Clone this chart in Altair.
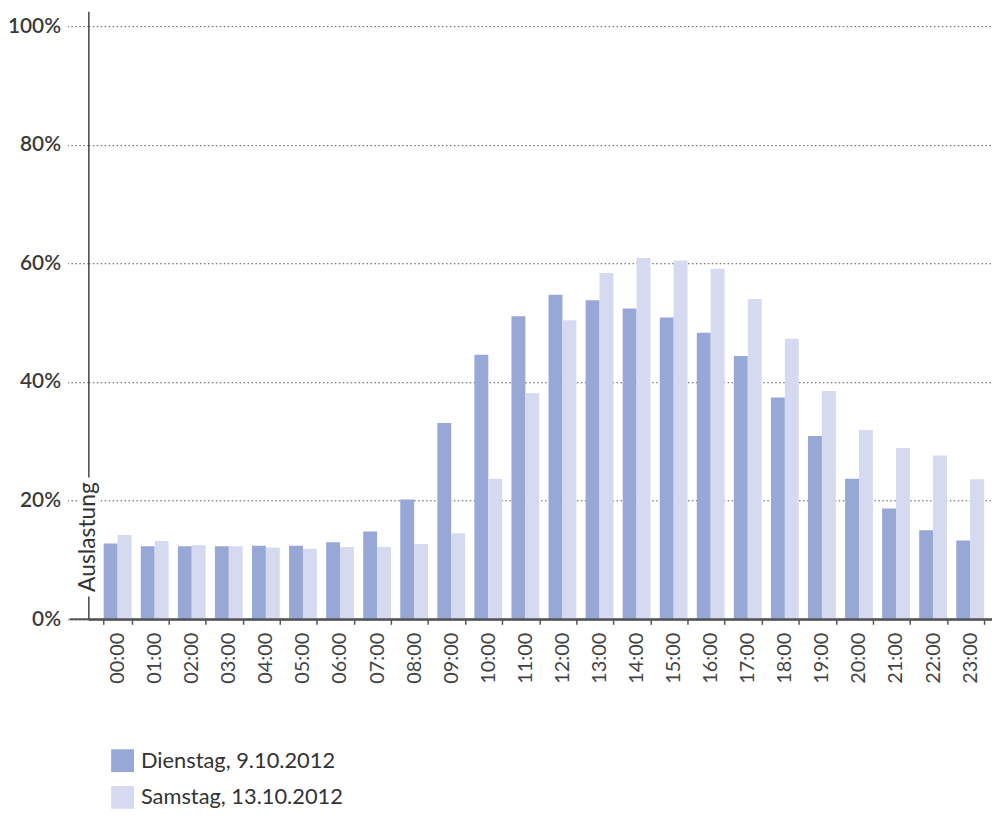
import altair as alt
import pandas as pd

hours = [f"{h:02d}:00" for h in range(24)]
dienstag = [12.8, 12.3, 12.3, 12.3, 12.4, 12.4, 13.0, 14.8, 20.2, 33.1, 44.6, 51.1,
            54.7, 53.8, 52.4, 50.9, 48.3, 44.4, 37.4, 30.9, 23.7, 18.7, 15.0, 13.3]
samstag = [14.2, 13.2, 12.5, 12.3, 12.1, 11.9, 12.2, 12.2, 12.7, 14.5, 23.7, 38.1,
           50.4, 58.4, 60.9, 60.5, 59.1, 54.0, 47.3, 38.5, 31.9, 28.9, 27.6, 23.6]
series = ["Dienstag, 9.10.2012", "Samstag, 13.10.2012"]
colors = ["#97a8d7", "#d5daf0"]
y_ticks = [0, 20, 40, 60, 80, 100]
axis_title = "Auslastung"

rows = []
for i, h in enumerate(hours):
    rows.append({"Stunde": h, "Tag": series[0], "Wert": dienstag[i]})
    rows.append({"Stunde": h, "Tag": series[1], "Wert": samstag[i]})
df = pd.DataFrame(rows)

W, H = 911, 613
FONT = "Lato"

bars = alt.Chart(df).mark_bar().encode(
    x=alt.X("Stunde:N", sort=hours,
            scale=alt.Scale(paddingInner=0.25, paddingOuter=0.314, align=0.66),
            axis=alt.Axis(title=None, labelAngle=-90, labelFont=FONT, labelFontSize=20,
                          labelColor="#444444", labelFontWeight=400, labelPadding=8,
                          tickBand="extent", tickSize=5, tickColor="#555555", tickWidth=1.5,
                          domain=True, domainColor="#555555", domainWidth=2, grid=False)),
    xOffset=alt.XOffset("Tag:N", sort=series, scale=alt.Scale(paddingInner=0, paddingOuter=0)),
    y=alt.Y("Wert:Q", scale=alt.Scale(domain=[0, 102.5], nice=False),
            axis=alt.Axis(title=None, values=y_ticks, labelExpr="datum.value + '%'",
                          labelFont=FONT, labelFontSize=21, labelFontWeight=600,
                          labelColor="#3a3a3a", labelPadding=7,
                          tickSize=21, tickDash=[1.5, 2.5], tickColor="#555555", tickWidth=1,
                          grid=True, gridDash=[1.5, 2.5], gridColor="#555555", gridWidth=1,
                          gridOpacity=1,
                          domain=True, domainColor="#444444", domainWidth=1.5)),
    color=alt.Color("Tag:N", sort=series,
                    scale=alt.Scale(domain=series, range=colors),
                    legend=alt.Legend(title=None, orient="none", legendX=23, legendY=744,
                                      symbolType="square", symbolSize=529,
                                      symbolStrokeWidth=0, labelFont=FONT, labelFontSize=22,
                                      labelColor="#333333", labelFontWeight=400,
                                      labelLimit=0, labelOffset=7, rowPadding=14)),
)

one = pd.DataFrame({"t": [axis_title]})

base_rule = alt.Chart(one).mark_rule(color="#555555", strokeWidth=2).encode(
    y=alt.datum(0), x=alt.value(-19), x2=alt.value(W)
)

white = alt.Chart(one).mark_rect(color="white").encode(
    x=alt.value(-11), x2=alt.value(10), y=alt.value(470), y2=alt.value(590)
)

title_txt = alt.Chart(one).mark_text(
    angle=270, font=FONT, fontSize=23, color="#333333", fontWeight=400,
    align="center", baseline="middle"
).encode(x=alt.value(0), y=alt.value(530), text="t:N")

chart = alt.layer(bars, base_rule, white, title_txt).properties(
    width=W, height=H,
    background="white",
    autosize=alt.AutoSizeParams(type="none"),
    padding={"left": 81, "top": 0, "right": 0, "bottom": 200},
).configure_view(stroke=None)

chart.save("out.html", embed_options={"renderer": "svg", "actions": False})
